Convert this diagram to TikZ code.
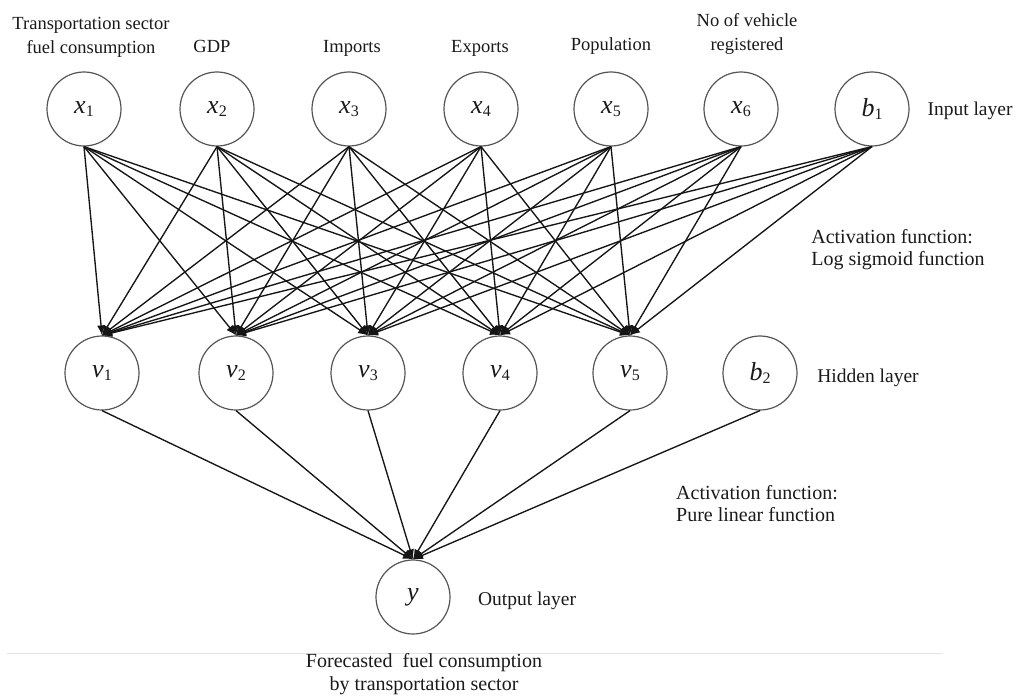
\documentclass[tikz,border=0pt]{standalone}
\usepackage{fontspec}
\setmainfont{Liberation Serif}
\usetikzlibrary{arrows.meta}
\definecolor{ringgray}{HTML}{555555}
\definecolor{wire}{HTML}{151515}
\definecolor{rulegray}{HTML}{E4E4E4}
\definecolor{ink}{HTML}{1A1A1A}
% symbol with a lowered subscript, e.g. \sym{x}{1}
\newcommand\sym[2]{\textit{#1}\raisebox{-0.3ex}{\fontsize{16}{16}\selectfont #2}}
\begin{document}
\begin{tikzpicture}[x=1pt,y=-1pt,
  neuron/.style={circle,draw=ringgray,line width=1.2pt,minimum size=74pt,inner sep=0pt,
    text=ink,font=\fontsize{26}{26}\selectfont},
  link/.style={draw=wire,line width=1.35pt,-{Latex[length=10pt,width=8pt]}},
  toplbl/.style={font=\fontsize{18.5}{24}\selectfont,align=center,inner sep=0pt,text=ink},
  layerlbl/.style={font=\fontsize{19.5}{22}\selectfont,align=center,inner sep=0pt,text=ink},
  actlbl/.style={font=\fontsize{20}{22}\selectfont,align=left,inner sep=0pt,text=ink},
]
\useasboundingbox[fill=white] (0,0) rectangle (1032,698);

% input layer
\node[neuron] (x1) at (84,109) {\sym{x}{1}};
\node[neuron] (x2) at (217,109) {\sym{x}{2}};
\node[neuron] (x3) at (349,109) {\sym{x}{3}};
\node[neuron] (x4) at (481,109) {\sym{x}{4}};
\node[neuron] (x5) at (611,109) {\sym{x}{5}};
\node[neuron] (x6) at (741,109) {\sym{x}{6}};
\node[neuron] (b1) at (872,109) {\sym{b}{1}};

% hidden layer
\node[neuron] (v1) at (102,373) {\sym{v}{1}};
\node[neuron] (v2) at (236,373) {\sym{v}{2}};
\node[neuron] (v3) at (368,373) {\sym{v}{3}};
\node[neuron] (v4) at (500,373) {\sym{v}{4}};
\node[neuron] (v5) at (630,373) {\sym{v}{5}};
\node[neuron] (b2) at (760,373) {\sym{b}{2}};

% output layer
\node[neuron] (y) at (413,597) {\textit{y}};

% input -> hidden connections
\foreach \i in {x1,x2,x3,x4,x5,x6,b1}
  \foreach \j in {v1,v2,v3,v4,v5}
    \draw[link] (\i.south) -- (\j.north);

% hidden -> output connections
\foreach \j in {v1,v2,v3,v4,v5,b2}
  \draw[link] (\j.south) -- (y.north);

% variable names above the inputs
\node[toplbl] (t1) at (91,37) {Transportation sector\\fuel consumption};
\node[toplbl,anchor=base] (t2) at (212,53) {GDP};
\node[toplbl,anchor=base] (t3) at (352,53) {Imports};
\node[toplbl,anchor=base] (t4) at (480,53) {Exports};
\node[toplbl,anchor=base] (t5) at (611,51) {Population};
\node[toplbl] (t6) at (747,34) {No of vehicle\\registered};

% layer and activation captions
\node[layerlbl,anchor=base] (lin) at (970,116) {Input layer};
\node[actlbl] (act1) at (898,250) {Activation function:\\Log sigmoid function};
\node[layerlbl,anchor=base] (lhid) at (868,382) {Hidden layer};
\node[actlbl] (act2) at (757,504) {Activation function:\\Pure linear function};
\node[layerlbl,anchor=base] (lout) at (527,605) {Output layer};

% separator and output description
\draw[rulegray,line width=1pt] (7,653) -- (943,653);
\node[layerlbl,font=\fontsize{20}{23}\selectfont] (fc) at (424,674) {Forecasted\ \ fuel consumption\\by transportation sector};
\end{tikzpicture}
\end{document}
